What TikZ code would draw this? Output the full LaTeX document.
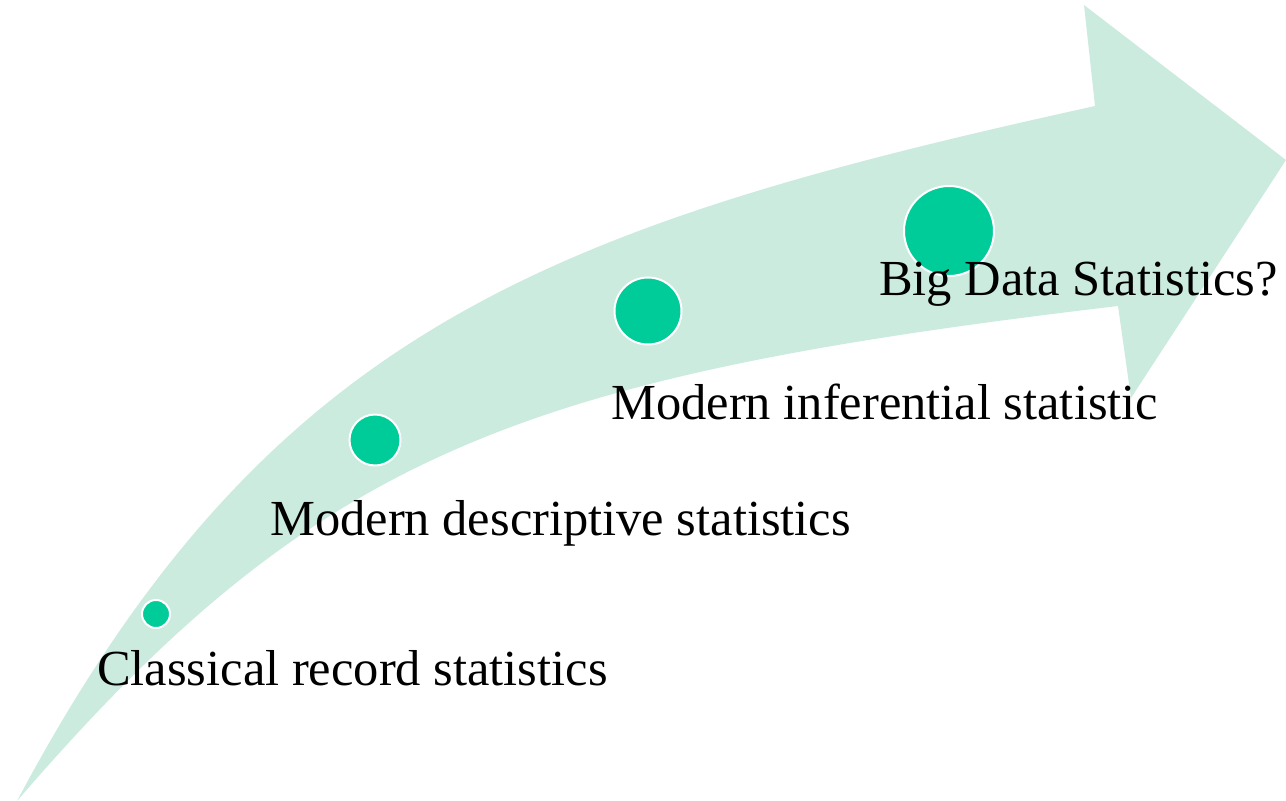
\documentclass[tikz,border=0pt]{standalone}
\usepackage{fontspec}
\setmainfont{Liberation Serif}
\definecolor{bandgreen}{RGB}{204,235,223}
\definecolor{dotgreen}{RGB}{0,204,153}
\begin{document}
\begin{tikzpicture}[x=1pt,y=-1pt,
  dot/.style={circle, fill=dotgreen, draw=white, line width=2pt, inner sep=0pt},
  lbl/.style={anchor=base west, inner sep=0pt, font=\fontsize{50.5}{60}\selectfont, text=black}]
\useasboundingbox (0,0) rectangle (1286,801);
% curved arrow
\fill[bandgreen]
  (17,801) .. controls (267,331) and (545,227) .. (1095,106)
  -- (1084,5) -- (1286,160) -- (1131,398) -- (1118,306)
  .. controls (518,377) and (317,453) .. (17,801)
  -- cycle;
% dots
\node[dot, minimum size=28pt] (c1) at (156,614) {};
\node[dot, minimum size=51pt] (c2) at (375,440) {};
\node[dot, minimum size=67pt] (c3) at (648,311) {};
\node[dot, minimum size=90pt] (c4) at (949,231) {};
% labels
\node[lbl] (t1) at (97,685) {Classical record statistics};
\node[lbl] (t2) at (270,535) {Modern descriptive statistics};
\node[lbl] (t3) at (611,419) {Modern inferential statistic};
\node[lbl] (t4) at (879,295) {Big Data Statistics?};
\end{tikzpicture}
\end{document}
